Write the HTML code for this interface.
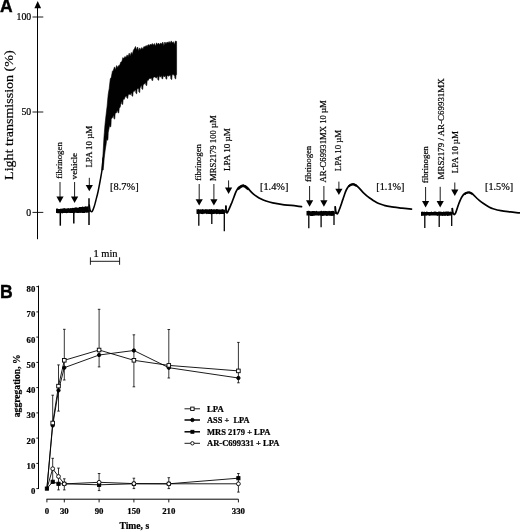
<!DOCTYPE html><html><head><meta charset="utf-8"><title>Figure</title><style>html,body{margin:0;padding:0;background:#fff}svg{display:block}text{font-family:"Liberation Serif",serif;fill:#000;stroke:#000;stroke-width:0.22px}.sb{font-family:"Liberation Sans",sans-serif;font-weight:bold}.b{font-weight:bold}</style></head><body>
<svg width="520" height="531" viewBox="0 0 520 531">
<rect width="520" height="531" fill="#fff"/>
<g style="opacity:0.999">
<text class="sb" x="0.1" y="12.4" font-size="17.5" style="stroke-width:0.4px">A</text>
<line x1="37.5" y1="5" x2="37.5" y2="239.2" stroke="#000" stroke-width="1"/>
<polygon points="37.7,1 34.4,8.2 41.1,8.2" fill="#000"/>
<line x1="32.5" y1="17" x2="43.3" y2="17" stroke="#000" stroke-width="0.9"/>
<text x="31.2" y="20.1" font-size="9.8" text-anchor="end">100</text>
<line x1="32.5" y1="112" x2="43.3" y2="112" stroke="#000" stroke-width="0.9"/>
<text x="31.2" y="115.1" font-size="9.8" text-anchor="end">50</text>
<line x1="32.5" y1="212.4" x2="43.3" y2="212.4" stroke="#000" stroke-width="0.9"/>
<text x="31.2" y="215.5" font-size="9.8" text-anchor="end">0</text>
<text transform="translate(12.6,179.9) rotate(-90)" font-size="13.3" textLength="129.6" lengthAdjust="spacingAndGlyphs">Light transmission (%)</text>
<polygon points="56.0,208.8 56.8,208.5 57.6,208.6 58.4,208.9 59.2,208.9 60.0,208.9 60.8,208.6 61.6,208.8 62.4,208.4 63.2,208.4 64.0,208.1 64.8,208.2 65.6,208.6 66.4,208.5 67.2,208.5 68.0,208.1 68.8,208.2 69.6,208.4 70.4,208.0 71.2,208.2 72.0,208.0 72.8,207.7 73.6,208.0 74.4,207.7 75.2,207.5 76.0,207.3 76.8,207.6 77.6,207.7 78.4,207.7 79.2,207.1 80.0,206.9 80.8,206.9 81.6,206.9 82.4,206.6 83.2,206.8 84.0,207.0 84.8,206.5 85.6,206.2 86.4,206.4 87.2,206.5 88.0,206.3 88.8,206.3 88.8,212.9 88.0,212.5 87.2,212.7 86.4,212.8 85.6,212.6 84.8,213.1 84.0,212.9 83.2,212.9 82.4,213.1 81.6,212.8 80.8,212.9 80.0,212.8 79.2,212.9 78.4,213.0 77.6,212.9 76.8,213.1 76.0,212.7 75.2,212.8 74.4,213.2 73.6,213.0 72.8,213.1 72.0,212.9 71.2,213.1 70.4,213.0 69.6,212.9 68.8,212.8 68.0,213.0 67.2,213.1 66.4,213.3 65.6,212.9 64.8,213.0 64.0,212.9 63.2,213.1 62.4,213.5 61.6,213.0 60.8,213.4 60.0,213.0 59.2,213.2 58.4,213.3 57.6,213.2 56.8,213.0 56.0,213.1" fill="#000"/>
<line x1="60.3" y1="210" x2="60.3" y2="225.7" stroke="#000" stroke-width="1.5"/>
<line x1="73.8" y1="210" x2="73.8" y2="223.6" stroke="#000" stroke-width="1.5"/>
<line x1="89" y1="210" x2="89" y2="225" stroke="#000" stroke-width="1.5"/>
<line x1="89" y1="198.3" x2="89" y2="212" stroke="#000" stroke-width="1.5"/>
<path d="M89.3,205.0 C89.4,205.8 89.7,208.7 90.0,209.8 C90.3,210.9 90.8,211.4 91.2,211.6 C91.6,211.8 91.9,212.0 92.4,211.2 C92.9,210.3 93.6,208.3 94.2,206.5 C94.8,204.7 95.2,202.9 95.9,200.3 C96.6,197.7 97.5,194.4 98.2,191.0 C98.9,187.6 99.7,183.5 100.3,180.0 C100.9,176.5 101.5,173.7 102.0,170.0 C102.5,166.3 102.9,160.0 103.1,158.0" fill="none" stroke="#000" stroke-width="1.5" stroke-linejoin="round" stroke-linecap="round"/>
<line x1="60" y1="182" x2="60" y2="197.1" stroke="#000" stroke-width="0.9"/>
<polygon points="56.4,196.6 63.6,196.6 60,203" fill="#000"/>
<line x1="74.6" y1="182" x2="74.6" y2="197.1" stroke="#000" stroke-width="0.9"/>
<polygon points="71.0,196.6 78.19999999999999,196.6 74.6,203" fill="#000"/>
<line x1="89.3" y1="177.8" x2="89.3" y2="185.4" stroke="#000" stroke-width="0.9"/>
<polygon points="85.7,184.9 92.89999999999999,184.9 89.3,191.3" fill="#000"/>
<text transform="translate(62.099999999999994,178.8) rotate(-90)" font-size="8.3" textLength="36.6" lengthAdjust="spacingAndGlyphs">fibrinogen</text>
<text transform="translate(76.7,179.4) rotate(-90)" font-size="8.3" textLength="26.6" lengthAdjust="spacingAndGlyphs">vehicle</text>
<text transform="translate(91.5,167.6) rotate(-90)" font-size="8.3" textLength="41.8" lengthAdjust="spacingAndGlyphs">LPA 10 µM</text>
<text x="110" y="190" font-size="10.5" textLength="28.6" lengthAdjust="spacingAndGlyphs">[8.7%]</text>
<polygon points="101.9,170.0 103.0,154.0 104.0,136.7 105.0,124.4 106.1,114.6 107.1,106.2 108.2,94.3 109.2,88.5 110.3,78.8 111.3,77.3 112.4,71.3 113.4,70.2 114.5,66.9 115.5,69.7 116.6,65.6 117.6,67.4 118.7,65.5 119.7,65.3 120.8,62.1 121.8,61.8 122.9,57.6 123.9,58.6 125.0,56.4 126.0,57.6 127.1,54.9 128.1,56.8 129.2,53.2 130.2,55.9 131.3,52.4 132.3,54.4 133.4,50.2 134.5,48.6 135.5,46.5 136.6,50.1 137.6,47.0 138.7,50.7 139.7,47.9 140.8,49.7 141.8,47.5 142.9,49.3 143.9,46.6 145.0,47.1 146.0,45.5 147.1,46.5 148.1,44.6 149.2,45.5 150.2,44.3 151.3,45.1 152.3,43.5 153.4,45.2 154.4,43.5 155.5,46.2 156.5,42.8 157.6,44.5 158.6,43.1 159.7,44.8 160.7,42.9 161.8,44.2 162.8,42.1 163.9,45.7 164.9,42.0 166.0,44.1 167.0,42.0 168.1,42.9 169.1,41.5 170.2,43.2 171.2,40.9 172.3,42.9 173.3,41.7 174.4,44.6 175.4,41.1 176.6,41.4 176.6,74.4 176.2,75.0 176.0,75.0 175.7,79.0 174.9,78.3 174.7,75.0 174.2,75.6 173.2,74.6 172.2,74.6 172.0,76.0 171.7,79.6 170.9,79.0 170.7,76.0 170.2,75.6 169.2,75.6 168.2,76.2 167.2,75.2 167.0,76.6 166.7,79.2 165.9,78.7 165.7,76.6 165.2,75.8 164.2,77.0 163.2,75.5 163.0,76.7 162.7,78.9 161.9,78.5 161.7,76.7 161.2,75.8 160.2,77.2 159.2,75.6 159.0,77.3 158.7,80.3 157.9,79.8 157.7,77.3 157.2,76.5 156.2,78.2 155.2,76.9 154.2,77.0 153.2,77.4 153.0,78.6 152.7,80.6 151.9,80.3 151.7,78.6 151.2,78.3 150.2,78.5 149.2,78.4 148.2,80.4 147.2,80.2 147.0,82.7 146.7,85.6 145.9,85.2 145.7,82.7 145.2,83.1 144.2,84.2 143.2,84.5 143.0,86.3 142.7,89.4 141.9,88.9 141.7,86.3 141.2,85.5 140.2,87.8 140.0,88.1 139.7,92.6 138.9,91.9 138.7,88.1 138.2,88.7 137.2,88.4 137.0,90.3 136.7,93.8 135.9,93.2 135.7,90.3 135.2,89.9 134.2,91.6 133.2,91.2 133.0,93.2 132.7,96.3 131.9,95.8 131.7,93.2 131.2,93.0 130.2,94.9 129.2,94.1 128.2,95.0 128.0,95.9 127.7,98.4 126.9,98.0 126.7,95.9 126.2,96.3 125.2,96.8 124.2,99.4 123.2,99.0 123.0,101.0 122.7,104.5 121.9,104.0 121.7,101.0 121.2,102.3 120.2,107.0 119.2,108.4 119.0,110.5 118.7,113.0 117.9,112.6 117.7,110.5 117.2,110.8 116.2,113.1 115.2,113.1 115.0,115.6 114.7,119.1 113.9,118.5 113.7,115.6 113.2,116.1 112.2,117.9 111.2,119.1 111.0,124.4 110.7,126.9 109.9,126.5 109.7,124.4 109.2,127.6 108.2,132.7 108.0,138.2 107.7,140.2 106.9,139.9 106.7,138.2 106.2,143.7 105.2,150.0 104.2,158.2 103.2,170.0" fill="#000" stroke="#000" stroke-width="0.6" stroke-linejoin="round"/>
<line x1="90.4" y1="261.3" x2="119.6" y2="261.3" stroke="#000" stroke-width="0.9"/>
<line x1="90.4" y1="257.3" x2="90.4" y2="264.8" stroke="#000" stroke-width="0.9"/>
<line x1="119.6" y1="257.3" x2="119.6" y2="264.8" stroke="#000" stroke-width="0.9"/>
<text x="93.4" y="257" font-size="10.5" textLength="24.2" lengthAdjust="spacingAndGlyphs">1 min</text>
<polygon points="196.5,209.1 197.3,209.5 198.1,209.1 198.9,209.2 199.7,209.5 200.5,209.2 201.3,209.5 202.1,209.3 202.9,209.1 203.7,209.5 204.5,209.5 205.3,209.3 206.1,209.0 206.9,209.4 207.7,209.2 208.5,209.4 209.3,209.1 210.1,209.4 210.9,209.0 211.7,209.0 212.5,209.4 213.3,209.3 214.1,209.3 214.9,209.3 215.7,209.4 216.5,209.1 217.3,209.1 218.1,209.4 218.9,209.2 219.7,209.5 220.5,209.4 221.3,209.4 222.1,208.9 222.9,209.3 223.7,209.4 224.5,209.3 224.5,214.0 223.7,213.9 222.9,213.9 222.1,213.9 221.3,214.1 220.5,214.1 219.7,214.2 218.9,214.1 218.1,213.8 217.3,213.9 216.5,214.2 215.7,213.7 214.9,213.8 214.1,214.1 213.3,213.9 212.5,213.9 211.7,214.2 210.9,214.2 210.1,214.0 209.3,213.9 208.5,213.9 207.7,213.8 206.9,214.2 206.1,213.7 205.3,213.6 204.5,213.7 203.7,213.7 202.9,214.2 202.1,213.9 201.3,214.0 200.5,213.7 199.7,213.7 198.9,214.1 198.1,214.1 197.3,213.9 196.5,213.7" fill="#000"/>
<line x1="198.8" y1="210" x2="198.8" y2="225.7" stroke="#000" stroke-width="1.3"/>
<line x1="211.8" y1="210" x2="211.8" y2="223.9" stroke="#000" stroke-width="1.3"/>
<line x1="224.3" y1="210" x2="224.3" y2="231.2" stroke="#000" stroke-width="1.3"/>
<line x1="225.9" y1="205.8" x2="225.9" y2="213" stroke="#000" stroke-width="1.3"/>
<path d="M225.9,206.0 C225.9,206.8 226.0,209.8 226.2,211.0 C226.4,212.2 226.6,212.9 226.9,213.0 C227.2,213.1 227.6,212.2 228.0,211.3 C228.4,210.4 229.0,209.2 229.6,207.8 C230.2,206.4 230.9,204.7 231.6,203.1 C232.2,201.5 232.9,199.9 233.5,198.3 C234.1,196.7 234.7,194.7 235.3,193.3 C235.9,191.9 236.4,190.9 237.0,189.9 C237.6,188.9 238.2,187.8 239.0,187.1 C239.8,186.4 240.7,186.0 241.5,185.7 C242.3,185.4 243.2,185.2 243.9,185.4 C244.7,185.6 245.2,186.0 246.0,186.6 C246.8,187.2 247.4,187.9 248.7,189.2 C249.9,190.5 252.0,192.9 253.5,194.2 C255.0,195.5 256.2,196.2 257.5,197.0 C258.8,197.8 259.8,198.3 261.2,199.0 C262.6,199.7 264.1,200.3 266.0,201.0 C267.9,201.7 269.7,202.3 272.7,202.9 C275.7,203.5 280.3,204.3 284.2,204.8 C288.1,205.3 292.9,205.5 295.8,205.8 C298.7,206.1 300.6,206.5 301.5,206.7" fill="none" stroke="#000" stroke-width="1.7" stroke-linejoin="round" stroke-linecap="round"/>
<path d="M238.5,188.6 C238.8,188.3 239.9,187.4 240.5,187.0 C241.1,186.6 241.4,186.3 242.0,186.1 C242.6,185.9 243.2,185.7 243.9,185.9 C244.6,186.1 245.3,186.6 246.0,187.1 C246.7,187.6 247.7,188.6 248.0,188.9" fill="none" stroke="#000" stroke-width="2.6" stroke-linejoin="round" stroke-linecap="round"/>
<line x1="199.2" y1="184" x2="199.2" y2="199.7" stroke="#000" stroke-width="0.9"/>
<polygon points="195.6,199.2 202.79999999999998,199.2 199.2,205.6" fill="#000"/>
<line x1="213.9" y1="184" x2="213.9" y2="199.7" stroke="#000" stroke-width="0.9"/>
<polygon points="210.3,199.2 217.5,199.2 213.9,205.6" fill="#000"/>
<line x1="228.6" y1="180.4" x2="228.6" y2="188.1" stroke="#000" stroke-width="0.9"/>
<polygon points="225.0,187.6 232.2,187.6 228.6,194" fill="#000"/>
<text transform="translate(200.9,180.8) rotate(-90)" font-size="8.3" textLength="36.8" lengthAdjust="spacingAndGlyphs">fibrinogen</text>
<text transform="translate(215.60000000000002,180.9) rotate(-90)" font-size="8.3" textLength="65.6" lengthAdjust="spacingAndGlyphs">MRS2179 100 µM</text>
<text transform="translate(230.10000000000002,171) rotate(-90)" font-size="8.3" textLength="43.0" lengthAdjust="spacingAndGlyphs">LPA 10 µM</text>
<text x="260" y="189.6" font-size="10.5" textLength="28.4" lengthAdjust="spacingAndGlyphs">[1.4%]</text>
<polygon points="306.5,211.0 307.3,211.1 308.1,210.8 308.9,210.8 309.7,210.9 310.5,211.2 311.3,211.3 312.1,210.9 312.9,211.0 313.7,211.1 314.5,211.1 315.3,211.2 316.1,210.9 316.9,210.8 317.7,211.4 318.5,211.2 319.3,211.2 320.1,211.3 320.9,210.8 321.7,210.8 322.5,211.3 323.3,210.8 324.1,211.2 324.9,210.8 325.7,211.0 326.5,211.1 327.3,211.2 328.1,210.7 328.9,211.3 329.7,210.7 330.5,211.2 331.3,210.9 332.1,210.9 332.9,210.8 333.7,211.1 334.5,211.2 334.5,215.6 333.7,215.6 332.9,216.1 332.1,215.8 331.3,215.9 330.5,215.8 329.7,215.8 328.9,215.8 328.1,215.5 327.3,216.0 326.5,215.9 325.7,215.6 324.9,215.8 324.1,215.6 323.3,216.0 322.5,215.9 321.7,215.8 320.9,215.7 320.1,215.5 319.3,215.6 318.5,215.8 317.7,215.5 316.9,215.6 316.1,215.5 315.3,215.6 314.5,215.7 313.7,215.7 312.9,216.0 312.1,215.9 311.3,215.9 310.5,216.0 309.7,215.5 308.9,215.5 308.1,215.5 307.3,215.6 306.5,215.6" fill="#000"/>
<line x1="308.8" y1="212" x2="308.8" y2="228.2" stroke="#000" stroke-width="1.3"/>
<line x1="321.1" y1="212" x2="321.1" y2="227.3" stroke="#000" stroke-width="1.3"/>
<line x1="334" y1="212" x2="334" y2="225.1" stroke="#000" stroke-width="1.3"/>
<line x1="335.2" y1="206" x2="335.2" y2="214" stroke="#000" stroke-width="1.3"/>
<path d="M335.3,207.0 C335.4,207.8 335.5,210.3 335.8,211.5 C336.1,212.7 336.8,214.0 337.3,213.9 C337.8,213.8 338.3,212.2 338.8,211.0 C339.3,209.8 339.9,208.0 340.4,206.7 C340.9,205.4 341.3,204.2 341.7,203.0 C342.1,201.8 342.4,200.7 342.9,199.4 C343.3,198.1 343.9,196.4 344.4,195.0 C344.9,193.6 345.4,192.0 345.9,190.8 C346.4,189.6 346.9,188.8 347.4,188.0 C347.9,187.2 348.4,186.5 349.0,185.9 C349.6,185.3 350.3,184.9 351.0,184.6 C351.7,184.3 352.5,184.1 353.3,184.2 C354.1,184.3 355.1,184.7 356.0,185.3 C356.9,185.9 357.4,186.3 358.7,187.6 C359.9,188.8 362.0,191.4 363.5,192.8 C365.0,194.2 366.2,195.3 367.5,196.3 C368.8,197.3 369.9,198.1 371.2,199.0 C372.4,199.9 373.7,200.8 375.0,201.5 C376.3,202.2 377.3,202.9 378.8,203.5 C380.3,204.1 382.1,204.8 384.0,205.3 C385.9,205.8 387.4,206.2 390.4,206.7 C393.4,207.2 398.4,207.7 401.9,208.1 C405.4,208.5 409.9,209.0 411.5,209.2" fill="none" stroke="#000" stroke-width="1.7" stroke-linejoin="round" stroke-linecap="round"/>
<path d="M349.0,186.1 C349.3,185.9 350.3,185.1 351.0,184.8 C351.7,184.5 352.5,184.3 353.3,184.4 C354.1,184.5 355.6,185.3 356.0,185.5" fill="none" stroke="#000" stroke-width="2.2" stroke-linejoin="round" stroke-linecap="round"/>
<line x1="309.6" y1="186" x2="309.6" y2="200.79999999999998" stroke="#000" stroke-width="0.9"/>
<polygon points="306.0,200.29999999999998 313.20000000000005,200.29999999999998 309.6,206.7" fill="#000"/>
<line x1="323.9" y1="186" x2="323.9" y2="200.79999999999998" stroke="#000" stroke-width="0.9"/>
<polygon points="320.29999999999995,200.29999999999998 327.5,200.29999999999998 323.9,206.7" fill="#000"/>
<line x1="338.9" y1="181.6" x2="338.9" y2="189.2" stroke="#000" stroke-width="0.9"/>
<polygon points="335.29999999999995,188.7 342.5,188.7 338.9,195.1" fill="#000"/>
<text transform="translate(310.90000000000003,182) rotate(-90)" font-size="8.3" textLength="36.2" lengthAdjust="spacingAndGlyphs">fibrinogen</text>
<text transform="translate(325.5,182.4) rotate(-90)" font-size="8.3" textLength="82.2" lengthAdjust="spacingAndGlyphs">AR-C69931MX 10 µM</text>
<text transform="translate(340.90000000000003,171.2) rotate(-90)" font-size="8.3" textLength="41.3" lengthAdjust="spacingAndGlyphs">LPA 10 µM</text>
<text x="376.3" y="190.2" font-size="10.5" textLength="28.2" lengthAdjust="spacingAndGlyphs">[1.1%]</text>
<polygon points="421.0,211.6 421.8,212.0 422.6,211.5 423.4,212.1 424.2,211.6 425.0,212.1 425.8,211.9 426.6,211.5 427.4,211.7 428.2,212.0 429.0,212.1 429.8,211.9 430.6,211.9 431.4,211.5 432.2,212.0 433.0,212.0 433.8,211.7 434.6,211.6 435.4,211.6 436.2,211.7 437.0,211.9 437.8,212.0 438.6,211.5 439.4,211.5 440.2,211.7 441.0,211.6 441.8,211.9 442.6,211.9 443.4,211.6 444.2,211.8 445.0,211.7 445.8,211.6 446.6,211.5 447.4,211.6 448.2,211.6 449.0,211.6 449.8,212.0 450.6,211.4 451.4,211.7 451.4,215.4 450.6,215.6 449.8,215.8 449.0,215.4 448.2,216.0 447.4,215.9 446.6,215.4 445.8,215.7 445.0,215.9 444.2,215.8 443.4,215.7 442.6,215.9 441.8,215.7 441.0,215.7 440.2,215.8 439.4,215.8 438.6,215.5 437.8,215.9 437.0,215.7 436.2,215.6 435.4,215.4 434.6,215.4 433.8,215.5 433.0,215.5 432.2,215.5 431.4,215.5 430.6,215.4 429.8,215.9 429.0,215.5 428.2,215.5 427.4,215.3 426.6,215.7 425.8,215.6 425.0,215.7 424.2,215.6 423.4,215.7 422.6,215.8 421.8,215.9 421.0,215.7" fill="#000"/>
<line x1="424.8" y1="212" x2="424.8" y2="227.9" stroke="#000" stroke-width="1.3"/>
<line x1="439.2" y1="212" x2="439.2" y2="226.9" stroke="#000" stroke-width="1.3"/>
<line x1="451.7" y1="212" x2="451.7" y2="226" stroke="#000" stroke-width="1.3"/>
<line x1="452.2" y1="208" x2="452.2" y2="214.5" stroke="#000" stroke-width="1.3"/>
<path d="M452.4,208.5 C452.5,209.2 452.6,211.5 452.9,212.5 C453.2,213.5 453.8,214.5 454.2,214.6 C454.6,214.7 455.1,213.9 455.6,213.0 C456.1,212.1 456.5,210.5 457.0,209.0 C457.5,207.5 458.2,205.4 458.8,203.8 C459.4,202.2 459.9,200.9 460.5,199.6 C461.1,198.3 461.6,197.2 462.3,196.2 C463.0,195.2 463.7,194.4 464.5,193.8 C465.3,193.2 466.1,192.8 466.9,192.6 C467.7,192.3 468.4,192.2 469.2,192.3 C470.0,192.4 470.7,192.8 471.5,193.3 C472.3,193.8 472.8,194.2 473.8,195.2 C474.8,196.1 476.4,197.8 477.7,199.0 C479.0,200.2 480.2,201.2 481.5,202.2 C482.8,203.2 484.1,204.0 485.4,204.8 C486.6,205.6 487.7,206.2 489.0,206.9 C490.3,207.6 491.1,208.1 493.1,208.7 C495.1,209.3 497.9,210.1 500.8,210.6 C503.7,211.1 507.3,211.5 510.4,211.9 C513.5,212.3 518.0,212.7 519.5,212.9" fill="none" stroke="#000" stroke-width="1.7" stroke-linejoin="round" stroke-linecap="round"/>
<path d="M465.0,193.8 C465.3,193.6 466.3,193.0 467.0,192.8 C467.7,192.6 468.4,192.4 469.2,192.5 C469.9,192.6 471.1,193.3 471.5,193.5" fill="none" stroke="#000" stroke-width="2.2" stroke-linejoin="round" stroke-linecap="round"/>
<line x1="425.6" y1="187" x2="425.6" y2="201.6" stroke="#000" stroke-width="0.9"/>
<polygon points="422.0,201.1 429.20000000000005,201.1 425.6,207.5" fill="#000"/>
<line x1="440.2" y1="186.8" x2="440.2" y2="201.6" stroke="#000" stroke-width="0.9"/>
<polygon points="436.59999999999997,201.1 443.8,201.1 440.2,207.5" fill="#000"/>
<line x1="454.8" y1="182.5" x2="454.8" y2="190.0" stroke="#000" stroke-width="0.9"/>
<polygon points="451.2,189.5 458.40000000000003,189.5 454.8,195.9" fill="#000"/>
<text transform="translate(427.5,183.3) rotate(-90)" font-size="8.3" textLength="37.1" lengthAdjust="spacingAndGlyphs">fibrinogen</text>
<text transform="translate(443.7,179.5) rotate(-90)" font-size="8.3" textLength="101.2" lengthAdjust="spacingAndGlyphs">MRS2179 / AR-C69931MX</text>
<text transform="translate(458.0,173.2) rotate(-90)" font-size="8.3" textLength="42.2" lengthAdjust="spacingAndGlyphs">LPA 10 µM</text>
<text x="485" y="190.1" font-size="10.5" textLength="28.2" lengthAdjust="spacingAndGlyphs">[1.5%]</text>
<text class="sb" x="0" y="297.8" font-size="17.6" style="stroke-width:0.4px">B</text>
<line x1="38.5" y1="285.6" x2="38.5" y2="489" stroke="#000" stroke-width="1"/>
<line x1="36.3" y1="488.6" x2="38.5" y2="488.6" stroke="#000" stroke-width="0.9"/>
<text class="b" x="35.3" y="494.1" font-size="8.7" text-anchor="end">0</text>
<line x1="36.3" y1="463.4" x2="38.5" y2="463.4" stroke="#000" stroke-width="0.9"/>
<text class="b" x="35.3" y="468.9" font-size="8.7" text-anchor="end">10</text>
<line x1="36.3" y1="438.1" x2="38.5" y2="438.1" stroke="#000" stroke-width="0.9"/>
<text class="b" x="35.3" y="443.6" font-size="8.7" text-anchor="end">20</text>
<line x1="36.3" y1="412.9" x2="38.5" y2="412.9" stroke="#000" stroke-width="0.9"/>
<text class="b" x="35.3" y="418.4" font-size="8.7" text-anchor="end">30</text>
<line x1="36.3" y1="387.6" x2="38.5" y2="387.6" stroke="#000" stroke-width="0.9"/>
<text class="b" x="35.3" y="393.1" font-size="8.7" text-anchor="end">40</text>
<line x1="36.3" y1="362.4" x2="38.5" y2="362.4" stroke="#000" stroke-width="0.9"/>
<text class="b" x="35.3" y="367.9" font-size="8.7" text-anchor="end">50</text>
<line x1="36.3" y1="337.1" x2="38.5" y2="337.1" stroke="#000" stroke-width="0.9"/>
<text class="b" x="35.3" y="342.6" font-size="8.7" text-anchor="end">60</text>
<line x1="36.3" y1="311.9" x2="38.5" y2="311.9" stroke="#000" stroke-width="0.9"/>
<text class="b" x="35.3" y="317.4" font-size="8.7" text-anchor="end">70</text>
<line x1="36.3" y1="286.6" x2="38.5" y2="286.6" stroke="#000" stroke-width="0.9"/>
<text class="b" x="35.3" y="292.1" font-size="8.7" text-anchor="end">80</text>
<text class="b" transform="translate(19.8,417.2) rotate(-90)" font-size="11" textLength="62.8" lengthAdjust="spacingAndGlyphs">aggregation, %</text>
<line x1="46.5" y1="499.2" x2="238.4" y2="499.2" stroke="#000" stroke-width="1"/>
<line x1="46.9" y1="499.2" x2="46.9" y2="502.4" stroke="#000" stroke-width="0.9"/>
<text class="b" x="46.9" y="514.3" font-size="8.8" text-anchor="middle">0</text>
<line x1="64.3" y1="499.2" x2="64.3" y2="502.4" stroke="#000" stroke-width="0.9"/>
<text class="b" x="64.3" y="514.3" font-size="8.8" text-anchor="middle">30</text>
<line x1="99.1" y1="499.2" x2="99.1" y2="502.4" stroke="#000" stroke-width="0.9"/>
<text class="b" x="99.1" y="514.3" font-size="8.8" text-anchor="middle">90</text>
<line x1="133.9" y1="499.2" x2="133.9" y2="502.4" stroke="#000" stroke-width="0.9"/>
<text class="b" x="133.9" y="514.3" font-size="8.8" text-anchor="middle">150</text>
<line x1="168.8" y1="499.2" x2="168.8" y2="502.4" stroke="#000" stroke-width="0.9"/>
<text class="b" x="168.8" y="514.3" font-size="8.8" text-anchor="middle">210</text>
<line x1="238.4" y1="499.2" x2="238.4" y2="502.4" stroke="#000" stroke-width="0.9"/>
<text class="b" x="238.4" y="514.3" font-size="8.8" text-anchor="middle">330</text>
<text class="b" x="134.3" y="528.6" font-size="9.6" text-anchor="middle">Time, s</text>
<path d="M52.7,395.2V425.5M51.4,395.2h2.6M51.4,425.5h2.6" stroke="#000" stroke-width="0.8" fill="none"/>
<path d="M58.5,364.9V411.1M57.2,364.9h2.6M57.2,411.1h2.6" stroke="#000" stroke-width="0.8" fill="none"/>
<path d="M64.3,329.3V380.0M63.0,329.3h2.6M63.0,380.0h2.6" stroke="#000" stroke-width="0.8" fill="none"/>
<path d="M99.1,309.3V366.9M97.8,309.3h2.6M97.8,366.9h2.6" stroke="#000" stroke-width="0.8" fill="none"/>
<path d="M133.9,334.8V386.8M132.6,334.8h2.6M132.6,386.8h2.6" stroke="#000" stroke-width="0.8" fill="none"/>
<path d="M168.8,329.5V378.0M167.5,329.5h2.6M167.5,378.0h2.6" stroke="#000" stroke-width="0.8" fill="none"/>
<path d="M238.4,342.4V382.8M237.1,342.4h2.6M237.1,382.8h2.6" stroke="#000" stroke-width="0.8" fill="none"/>
<path d="M52.7,458.3V481.8M51.4,458.3h2.6M51.4,481.8h2.6" stroke="#000" stroke-width="0.8" fill="none"/>
<path d="M58.5,468.1V489.9M57.2,468.1h2.6M57.2,489.9h2.6" stroke="#000" stroke-width="0.8" fill="none"/>
<path d="M64.3,478.8V489.9M63.0,478.8h2.6M63.0,489.9h2.6" stroke="#000" stroke-width="0.8" fill="none"/>
<path d="M99.1,473.5V490.6M97.8,473.5h2.6M97.8,490.6h2.6" stroke="#000" stroke-width="0.8" fill="none"/>
<path d="M133.9,478.2V488.6M132.6,478.2h2.6M132.6,488.6h2.6" stroke="#000" stroke-width="0.8" fill="none"/>
<path d="M168.8,477.7V488.6M167.5,477.7h2.6M167.5,488.6h2.6" stroke="#000" stroke-width="0.8" fill="none"/>
<path d="M238.4,473.5V492.1M237.1,473.5h2.6M237.1,492.1h2.6" stroke="#000" stroke-width="0.8" fill="none"/>
<polyline points="46.9,488.6 52.7,481.8 58.5,483.8 64.3,483.8 99.1,484.8 133.9,483.8 168.8,483.8 238.4,478.2" fill="none" stroke="#000" stroke-width="0.9"/>
<polyline points="46.9,488.6 52.7,468.7 58.5,476.5 64.3,483.9 99.1,482.3 133.9,483.6 168.8,483.8 238.4,483.8" fill="none" stroke="#000" stroke-width="0.9"/>
<polyline points="46.9,488.6 52.7,425.5 58.5,390.4 64.3,367.7 99.1,355.0 133.9,350.5 168.8,367.7 238.4,378.0" fill="none" stroke="#000" stroke-width="0.9"/>
<polyline points="46.9,488.6 52.7,423.0 58.5,386.1 64.3,360.3 99.1,350.0 133.9,360.3 168.8,365.4 238.4,370.9" fill="none" stroke="#000" stroke-width="0.9"/>
<rect x="45.3" y="487.0" width="3.2" height="3.2" fill="#000" stroke="#000" stroke-width="0.9"/>
<rect x="51.1" y="480.2" width="3.2" height="3.2" fill="#000" stroke="#000" stroke-width="0.9"/>
<rect x="56.9" y="482.2" width="3.2" height="3.2" fill="#000" stroke="#000" stroke-width="0.9"/>
<rect x="62.7" y="482.2" width="3.2" height="3.2" fill="#000" stroke="#000" stroke-width="0.9"/>
<rect x="97.5" y="483.2" width="3.2" height="3.2" fill="#000" stroke="#000" stroke-width="0.9"/>
<rect x="132.3" y="482.2" width="3.2" height="3.2" fill="#000" stroke="#000" stroke-width="0.9"/>
<rect x="167.2" y="482.2" width="3.2" height="3.2" fill="#000" stroke="#000" stroke-width="0.9"/>
<rect x="236.8" y="476.6" width="3.2" height="3.2" fill="#000" stroke="#000" stroke-width="0.9"/>
<circle cx="52.7" cy="468.7" r="1.9" fill="#fff" stroke="#000" stroke-width="0.9"/>
<circle cx="58.5" cy="476.5" r="1.9" fill="#fff" stroke="#000" stroke-width="0.9"/>
<circle cx="64.3" cy="483.9" r="1.9" fill="#fff" stroke="#000" stroke-width="0.9"/>
<circle cx="99.1" cy="482.3" r="1.9" fill="#fff" stroke="#000" stroke-width="0.9"/>
<circle cx="133.9" cy="483.6" r="1.9" fill="#fff" stroke="#000" stroke-width="0.9"/>
<circle cx="168.8" cy="483.8" r="1.9" fill="#fff" stroke="#000" stroke-width="0.9"/>
<circle cx="238.4" cy="483.8" r="1.9" fill="#fff" stroke="#000" stroke-width="0.9"/>
<circle cx="52.7" cy="425.5" r="1.7" fill="#000" stroke="#000" stroke-width="0.9"/>
<circle cx="58.5" cy="390.4" r="1.7" fill="#000" stroke="#000" stroke-width="0.9"/>
<circle cx="64.3" cy="367.7" r="1.7" fill="#000" stroke="#000" stroke-width="0.9"/>
<circle cx="99.1" cy="355.0" r="1.7" fill="#000" stroke="#000" stroke-width="0.9"/>
<circle cx="133.9" cy="350.5" r="1.7" fill="#000" stroke="#000" stroke-width="0.9"/>
<circle cx="168.8" cy="367.7" r="1.7" fill="#000" stroke="#000" stroke-width="0.9"/>
<circle cx="238.4" cy="378.0" r="1.7" fill="#000" stroke="#000" stroke-width="0.9"/>
<rect x="50.9" y="421.2" width="3.6" height="3.6" fill="#fff" stroke="#000" stroke-width="0.9"/>
<rect x="56.7" y="384.3" width="3.6" height="3.6" fill="#fff" stroke="#000" stroke-width="0.9"/>
<rect x="62.5" y="358.5" width="3.6" height="3.6" fill="#fff" stroke="#000" stroke-width="0.9"/>
<rect x="97.3" y="348.2" width="3.6" height="3.6" fill="#fff" stroke="#000" stroke-width="0.9"/>
<rect x="132.1" y="358.5" width="3.6" height="3.6" fill="#fff" stroke="#000" stroke-width="0.9"/>
<rect x="167.0" y="363.6" width="3.6" height="3.6" fill="#fff" stroke="#000" stroke-width="0.9"/>
<rect x="236.6" y="369.1" width="3.6" height="3.6" fill="#fff" stroke="#000" stroke-width="0.9"/>
<line x1="184.5" y1="408.8" x2="200" y2="408.8" stroke="#000" stroke-width="0.9"/>
<rect x="190.7" y="407.1" width="3.4" height="3.4" fill="#fff" stroke="#000" stroke-width="0.9"/>
<text class="b" x="207" y="411.90000000000003" font-size="8.8" textLength="16.8" lengthAdjust="spacingAndGlyphs" xml:space="preserve">LPA</text>
<line x1="184.5" y1="420" x2="200" y2="420" stroke="#000" stroke-width="1.5"/>
<circle cx="192.4" cy="420.0" r="1.7" fill="#000" stroke="#000" stroke-width="0.9"/>
<text class="b" x="207" y="423.1" font-size="8.8" textLength="42.5" lengthAdjust="spacingAndGlyphs" xml:space="preserve">ASS +  LPA</text>
<line x1="184.5" y1="431.8" x2="200" y2="431.8" stroke="#000" stroke-width="1.5"/>
<rect x="190.9" y="430.3" width="3.0" height="3.0" fill="#000" stroke="#000" stroke-width="0.9"/>
<text class="b" x="207" y="434.90000000000003" font-size="8.8" textLength="63.5" lengthAdjust="spacingAndGlyphs" xml:space="preserve">MRS 2179 + LPA</text>
<line x1="184.5" y1="443.3" x2="200" y2="443.3" stroke="#000" stroke-width="0.9"/>
<circle cx="192.4" cy="443.3" r="1.7" fill="#fff" stroke="#000" stroke-width="0.9"/>
<text class="b" x="207" y="446.40000000000003" font-size="8.8" textLength="72.5" lengthAdjust="spacingAndGlyphs" xml:space="preserve">AR-C699331 + LPA</text>
</g>
</svg></body></html>
